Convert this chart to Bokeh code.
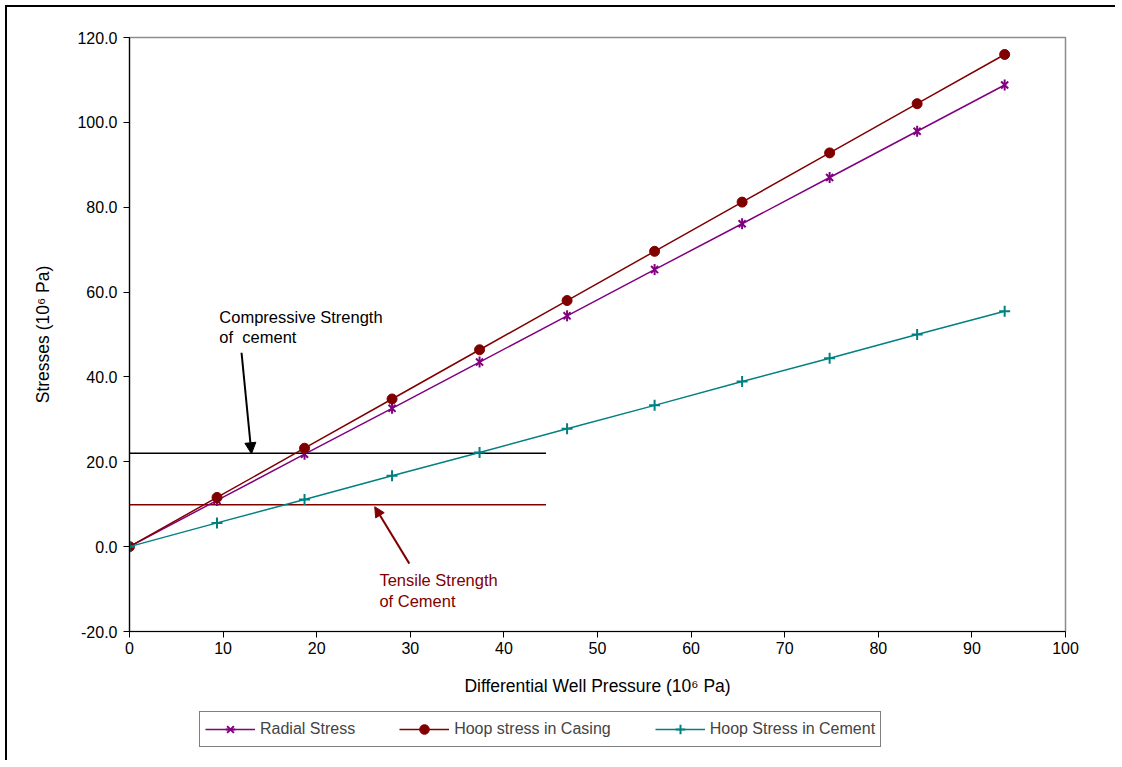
from bokeh.plotting import figure
from bokeh.layouts import column
from bokeh.models import (Range1d, SingleIntervalTicker, NumeralTickFormatter, Legend, LegendItem,
                          Label, Arrow, NormalHead)
from bokeh.embed import file_html
from bokeh.resources import INLINE

# ---- data ----
pressure = [0, 9.35, 18.7, 28.05, 37.4, 46.75, 56.1, 65.45, 74.8, 84.15, 93.5]
radial_stress = [0, 10.9, 21.8, 32.6, 43.5, 54.4, 65.3, 76.1, 87.0, 97.9, 108.8]
hoop_casing = [0, 11.6, 23.2, 34.8, 46.4, 58.0, 69.6, 81.2, 92.8, 104.4, 116.0]
hoop_cement = [0, 5.6, 11.1, 16.7, 22.2, 27.8, 33.3, 38.9, 44.4, 50.0, 55.5]
series_labels = ["Radial Stress", "Hoop stress in Casing", "Hoop Stress in Cement"]

compressive_strength = 22.0
tensile_strength = 9.9
strength_x_range = [0, 44.5]

compressive_text = ["Compressive Strength", "of\u00a0 cement"]
compressive_text_pos = [(9.6, 54.2), (9.6, 49.4)]
compressive_arrow = (11.97, 45.7, 13.03, 21.9)
tensile_text = ["Tensile Strength", "of Cement"]
tensile_text_pos = [(26.7, -7.9), (26.7, -12.9)]
tensile_arrow = (29.9, -4.0, 26.2, 9.4)

FONT = "Liberation Sans"
RADIAL_C = "#800080"
CASING_C = "#800000"
CEMENT_C = "#008080"


def add_series(fig):
    rl = fig.line(pressure, radial_stress, line_color=RADIAL_C, line_width=1.5)
    rm1 = fig.scatter(pressure, radial_stress, marker="x", size=10, line_color=RADIAL_C, line_width=2)
    rm2 = fig.scatter(pressure, radial_stress, marker="dash", angle=1.5708, size=11,
                      line_color=RADIAL_C, line_width=2)
    cl = fig.line(pressure, hoop_casing, line_color=CASING_C, line_width=1.5)
    cm = fig.scatter(pressure, hoop_casing, marker="circle", size=10, fill_color=CASING_C,
                     line_color=CASING_C)
    ml = fig.line(pressure, hoop_cement, line_color=CEMENT_C, line_width=1.5)
    mm = fig.scatter(pressure, hoop_cement, marker="cross", size=11, line_color=CEMENT_C, line_width=2)
    return [rl, rm1, rm2], [cl, cm], [ml, mm]


p = figure(width=1108, height=700, output_backend="svg", toolbar_location=None,
           x_range=Range1d(0, 100), y_range=Range1d(-20, 120),
           min_border_left=122, min_border_right=50, min_border_top=30, min_border_bottom=76)
p.xgrid.visible = False
p.ygrid.visible = False
p.outline_line_color = "#8c8c8c"
p.outline_line_width = 1.5

for ax in (p.xaxis[0], p.yaxis[0]):
    ax.axis_line_color = "black"
    ax.axis_line_width = 1.2
    ax.major_tick_line_color = "black"
    ax.major_tick_out = 6
    ax.major_tick_in = 0
    ax.minor_tick_out = 0
    ax.minor_tick_in = 0
    ax.major_label_text_font = FONT
    ax.major_label_text_font_size = "16px"
    ax.major_label_text_color = "black"
    ax.axis_label_text_font = FONT
    ax.axis_label_text_font_size = "17.5px"
    ax.axis_label_text_font_style = "normal"
    ax.axis_label_text_color = "black"

p.xaxis.ticker = SingleIntervalTicker(interval=10)
p.yaxis.ticker = SingleIntervalTicker(interval=20)
p.yaxis.formatter = NumeralTickFormatter(format="0.0")
p.xaxis.axis_label = "Differential Well Pressure (10\u2076 Pa)"
p.yaxis.axis_label = "Stresses (10\u2076 Pa)"
p.xaxis.major_label_standoff = 4
p.yaxis.major_label_standoff = 6
p.xaxis.axis_label_standoff = 19
p.yaxis.axis_label_standoff = 21

# strength lines
p.line(strength_x_range, [compressive_strength] * 2, line_color="black", line_width=1.5)
p.line(strength_x_range, [tensile_strength] * 2, line_color=CASING_C, line_width=1.5)

add_series(p)

# annotations
for t, (x, y) in zip(compressive_text, compressive_text_pos):
    p.add_layout(Label(x=x, y=y, text=t, text_font=FONT, text_font_size="16.5px",
                       text_color="black", text_baseline="middle"))
for t, (x, y) in zip(tensile_text, tensile_text_pos):
    p.add_layout(Label(x=x, y=y, text=t, text_font=FONT, text_font_size="16.5px",
                       text_color=CASING_C, text_baseline="middle"))

x0, y0, x1, y1 = compressive_arrow
p.add_layout(Arrow(x_start=x0, y_start=y0, x_end=x1, y_end=y1, line_color="black", line_width=2,
                   end=NormalHead(size=11, fill_color="black", line_color="black")))
x0, y0, x1, y1 = tensile_arrow
p.add_layout(Arrow(x_start=x0, y_start=y0, x_end=x1, y_end=y1, line_color=CASING_C, line_width=2,
                   end=NormalHead(size=10, fill_color=CASING_C, line_color=CASING_C)))

# ---- legend strip: same series drawn out of view, used only for the legend glyphs ----
lg = figure(width=1108, height=53, output_backend="svg", toolbar_location=None,
            x_range=Range1d(-20, -10), y_range=Range1d(-20, -10), x_axis_type=None, y_axis_type=None,
            min_border_left=0, min_border_right=0, min_border_top=0, min_border_bottom=0)
lg.xgrid.visible = False
lg.ygrid.visible = False
lg.outline_line_color = None

r_rs, c_rs, m_rs = add_series(lg)

legend = Legend(items=[
    LegendItem(label=series_labels[0], renderers=r_rs),
    LegendItem(label=series_labels[1], renderers=c_rs),
    LegendItem(label=series_labels[2], renderers=m_rs),
], orientation="horizontal", location=(70, 13), glyph_width=50, glyph_height=24,
    label_standoff=5, spacing=44, padding=5, margin=0, border_line_color="black",
    border_line_width=1, label_text_font=FONT, label_text_font_size="16px",
    background_fill_alpha=1, label_height=18)
lg.add_layout(legend)

layout = column(p, lg, spacing=0,
                styles={"border-left": "2px solid black", "border-top": "2px solid black",
                        "margin-left": "5px", "margin-top": "5px"})

open("out.html", "w").write(file_html(layout, INLINE))
